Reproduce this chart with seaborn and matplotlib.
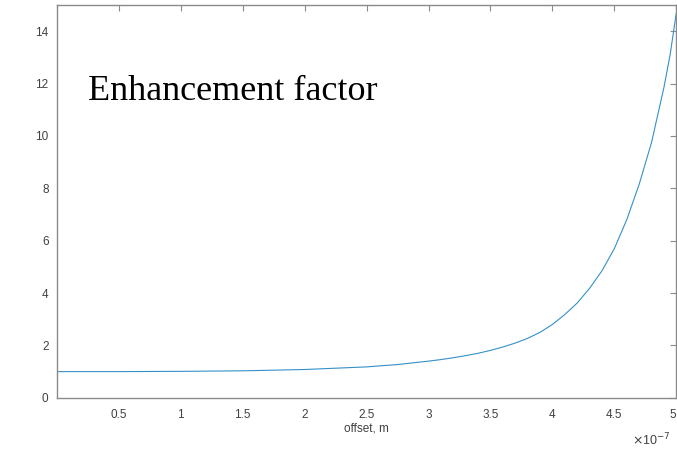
import matplotlib
matplotlib.use("Agg")
import matplotlib.pyplot as plt
import matplotlib.ticker as mticker
import pandas as pd
import seaborn as sns

# offset in units of 1e-7 m
offset_e7 = [0.0, 0.5, 1.0, 1.5, 2.0, 2.5, 2.75, 3.0, 3.1, 3.2, 3.3, 3.4,
             3.5, 3.6, 3.7, 3.8, 3.9, 4.0, 4.1, 4.2, 4.3, 4.4, 4.5, 4.6,
             4.7, 4.8, 4.9, 4.95, 5.0]
factor = [1.0, 1.0, 1.01, 1.03, 1.08, 1.18, 1.27, 1.40, 1.46, 1.53, 1.61,
          1.70, 1.81, 1.94, 2.09, 2.27, 2.50, 2.80, 3.18, 3.62, 4.18, 4.85,
          5.70, 6.80, 8.15, 9.75, 11.85, 13.1, 14.7]

x_ticks = [0.5, 1, 1.5, 2, 2.5, 3, 3.5, 4, 4.5, 5]
y_ticks = [0, 2, 4, 6, 8, 10, 12, 14]

df = pd.DataFrame({"offset": [v * 1e-7 for v in offset_e7], "factor": factor})

sns.set_style("white")
plt.rcParams["font.family"] = ["Liberation Sans", "DejaVu Sans"]

fig = plt.figure(figsize=(6.77, 4.5), dpi=100)
ax = fig.add_axes([0.084, 0.116, 0.915, 0.873])

sns.lineplot(data=df, x="offset", y="factor", color="#3590c8", linewidth=0.8, ax=ax)

ax.set_xlim(0, 5e-7)
ax.set_ylim(0, 15)
ax.set_xticks([t * 1e-7 for t in x_ticks])
ax.xaxis.set_major_formatter(mticker.FuncFormatter(lambda v, p: f"{v / 1e-7:g}"))
ax.set_yticks(y_ticks)

for s in ax.spines.values():
    s.set_color("#8a8a8a")
    s.set_linewidth(1.0)
ax.tick_params(direction="in", length=4, width=0.8, color="#8a8a8a",
               top=True, right=True, labelsize=8.5, labelcolor="#404040")
ax.tick_params(axis="x", pad=8)
ax.tick_params(axis="y", pad=6)

# last tick label sits on the figure edge, keep it inside
fig.canvas.draw()
ax.get_xticklabels()[-1].set_horizontalalignment("right")

ax.set_xlabel("offset, m", fontsize=8.5, color="#404040", labelpad=1)
ax.set_ylabel("")
ax.text(0.928, -0.107, r"$\times$10$^{-7}$", transform=ax.transAxes,
        fontsize=9, color="#404040", ha="left", va="center")

ax.text(0.05, 0.758, "Enhancement factor", transform=ax.transAxes,
        fontsize=26, family="Liberation Serif", color="black", va="baseline")

fig.savefig("out.png", dpi=100)
